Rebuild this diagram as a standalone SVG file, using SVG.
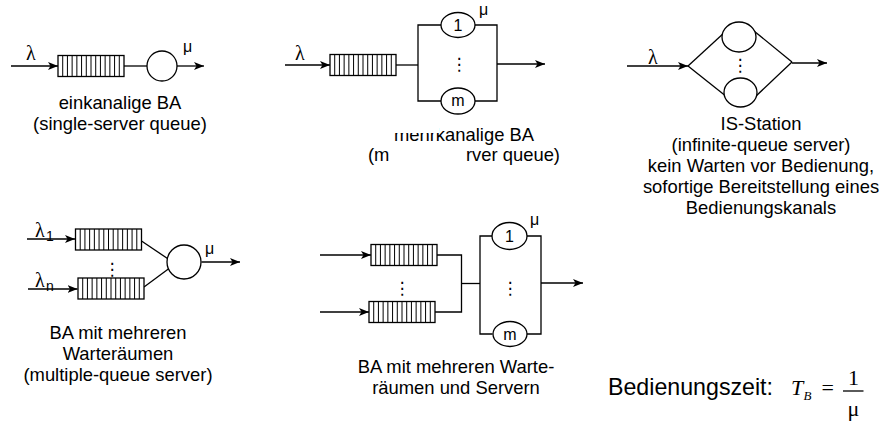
<svg xmlns="http://www.w3.org/2000/svg" xmlns:xlink="http://www.w3.org/1999/xlink" width="884" height="423" viewBox="0 0 884 423">
<style>
.ln{fill:none;stroke:#000;stroke-width:1.3}
.srv{fill:#fff;stroke:#000;stroke-width:1.3}
.t{font-family:"Liberation Sans",Arial,sans-serif;font-size:18.4px;fill:#000;text-anchor:middle}
.num{font-family:"Liberation Sans",Arial,sans-serif;font-size:16px;fill:#000;text-anchor:middle}
.mu{font-family:"Liberation Sans",Arial,sans-serif;font-size:16px;fill:#000}
.lam{font-family:"Liberation Serif","Times New Roman",serif;font-size:20px;fill:#000}
.sub{font-family:"Liberation Sans",Arial,sans-serif;font-size:14px;fill:#000}
.dots{font-family:"DejaVu Sans",sans-serif;font-size:17px;fill:#000;text-anchor:middle}
.frm{font-family:"Liberation Serif","Times New Roman",serif;font-size:22px;fill:#000}
</style>
<defs>
<marker id="arr" markerWidth="10" markerHeight="8" refX="10" refY="4" orient="auto" markerUnits="userSpaceOnUse">
<path d="M0,0 L10,4 L0,8 L2.5,4 z" fill="#000"/>
</marker>
<g id="queue">
<rect x="0" y="0" width="66" height="21" fill="#fff" stroke="#000" stroke-width="1.3"/>
<path d="M4.71,0V21M9.43,0V21M14.14,0V21M18.86,0V21M23.57,0V21M28.29,0V21M33,0V21M37.71,0V21M42.43,0V21M47.14,0V21M51.86,0V21M56.57,0V21M61.29,0V21" stroke="#000" stroke-width="1"/>
</g>
</defs>
<rect width="884" height="423" fill="#fff"/>

<g id="connectors">
<path class="ln" d="M11,66H58" marker-end="url(#arr)"/>
<path class="ln" d="M124,66H147.5"/>
<path class="ln" d="M176.5,66H204" marker-end="url(#arr)"/>
<path class="ln" d="M285,65H330" marker-end="url(#arr)"/>
<path class="ln" d="M396,65H418"/>
<path class="ln" d="M441,25H418V101H441"/>
<path class="ln" d="M475,25H497V101H475"/>
<path class="ln" d="M497,64H545" marker-end="url(#arr)"/>
<path class="ln" d="M627,66H688" marker-end="url(#arr)"/>
<path class="ln" d="M688,66L725,32"/>
<path class="ln" d="M688,66L727,97"/>
<path class="ln" d="M754,31L792,62"/>
<path class="ln" d="M755,97L792,62"/>
<path class="ln" d="M792,63H827" marker-end="url(#arr)"/>
<path class="ln" d="M27,239H75" marker-end="url(#arr)"/>
<path class="ln" d="M28,289H77.5" marker-end="url(#arr)"/>
<path class="ln" d="M141.5,241L167.5,258.5"/>
<path class="ln" d="M144,287L169,268.5"/>
<path class="ln" d="M201.5,262H240" marker-end="url(#arr)"/>
<path class="ln" d="M320,255H371" marker-end="url(#arr)"/>
<path class="ln" d="M320,312H369" marker-end="url(#arr)"/>
<path class="ln" d="M437,255H461.5V312H435"/>
<path class="ln" d="M461.5,283.5H480"/>
<path class="ln" d="M492,236H480V334H492.5"/>
<path class="ln" d="M527,236H541V334H527"/>
<path class="ln" d="M541,283H583" marker-end="url(#arr)"/>
</g>

<g id="single-server">
<text class="lam" x="26" y="60">λ</text>
<use id="queue1" xlink:href="#queue" href="#queue" x="58" y="55.5"/>
<circle id="server1" class="srv" cx="162" cy="66" r="15"/>
<text class="mu" x="183" y="52">μ</text>
<text class="t" x="120" y="108.5">einkanalige BA</text>
<text class="t" x="120" y="129.5">(single-server queue)</text>
</g>

<g id="multi-server">
<text class="lam" x="295" y="60">λ</text>
<use id="queue2" xlink:href="#queue" href="#queue" x="330" y="54.5"/>
<g id="server2-1">
<ellipse class="srv" cx="458" cy="25" rx="17" ry="12.5"/>
<text class="num" x="458" y="30.5">1</text>
</g>
<text class="dots" x="459" y="70">⋮</text>
<g id="server2-m">
<ellipse class="srv" cx="458" cy="101" rx="17" ry="13"/>
<text class="num" x="458" y="106">m</text>
</g>
<text class="mu" x="479" y="15">μ</text>
<text class="t" x="464" y="141">mehrkanalige BA</text>
<rect x="390" y="115" width="49" height="18" fill="#fff"/>
<text class="t" x="368" y="161" style="text-anchor:start">(m</text>
<text class="t" x="560" y="161" style="text-anchor:end">rver queue)</text>
</g>

<g id="is-station">
<text class="lam" x="648" y="64">λ</text>
<ellipse id="server3-1" class="srv" cx="739" cy="37" rx="17" ry="15"/>
<text class="dots" x="740" y="71">⋮</text>
<ellipse id="server3-n" class="srv" cx="740.5" cy="92.5" rx="16.5" ry="14.5"/>
<text class="t" x="761" y="130">IS-Station</text>
<text class="t" x="761" y="151">(infinite-queue server)</text>
<text class="t" x="761" y="172">kein Warten vor Bedienung,</text>
<text class="t" x="761" y="193">sofortige Bereitstellung eines</text>
<text class="t" x="761" y="214">Bedienungskanals</text>
</g>

<g id="multiple-queue">
<text class="lam" x="35" y="237">λ</text><text class="sub" x="46" y="241">1</text>
<text class="lam" x="35" y="287">λ</text><text class="sub" x="46" y="291">n</text>
<use id="queue4-1" xlink:href="#queue" href="#queue" x="75.5" y="229"/>
<text class="dots" x="112" y="275">⋮</text>
<use id="queue4-n" xlink:href="#queue" href="#queue" x="78" y="278"/>
<circle id="server4" class="srv" cx="184" cy="262" r="17"/>
<text class="mu" x="205" y="254">μ</text>
<text class="t" x="118" y="339">BA mit mehreren</text>
<text class="t" x="118" y="360">Warteräumen</text>
<text class="t" x="118" y="381">(multiple-queue server)</text>
</g>

<g id="multi-queue-multi-server">
<use id="queue5-1" xlink:href="#queue" href="#queue" x="371" y="244.5"/>
<text class="dots" x="402" y="294">⋮</text>
<use id="queue5-n" xlink:href="#queue" href="#queue" x="369" y="301.5"/>
<g id="server5-1">
<ellipse class="srv" cx="509.5" cy="236" rx="17.5" ry="13.5"/>
<text class="num" x="509.5" y="241.5">1</text>
</g>
<text class="dots" x="510" y="294">⋮</text>
<g id="server5-m">
<ellipse class="srv" cx="510" cy="334" rx="17" ry="12.5"/>
<text class="num" x="510" y="339.5">m</text>
</g>
<text class="mu" x="530" y="225">μ</text>
<text class="t" x="456" y="373">BA mit mehreren Warte-</text>
<text class="t" x="456" y="394">räumen und Servern</text>
</g>

<g id="service-time">
<text class="t" x="608" y="395" style="text-anchor:start;font-size:23.2px">Bedienungszeit:</text>
<text class="frm" x="791" y="395" font-style="italic">T</text>
<text class="frm" x="803.5" y="400" font-style="italic" style="font-size:13px">B</text>
<text class="frm" x="821.5" y="395">=</text>
<path class="ln" d="M843,391H863.5"/>
<text class="frm" x="853.5" y="385" style="text-anchor:middle">1</text>
<text class="frm" x="853.5" y="416" style="text-anchor:middle">μ</text>
</g>
</svg>
